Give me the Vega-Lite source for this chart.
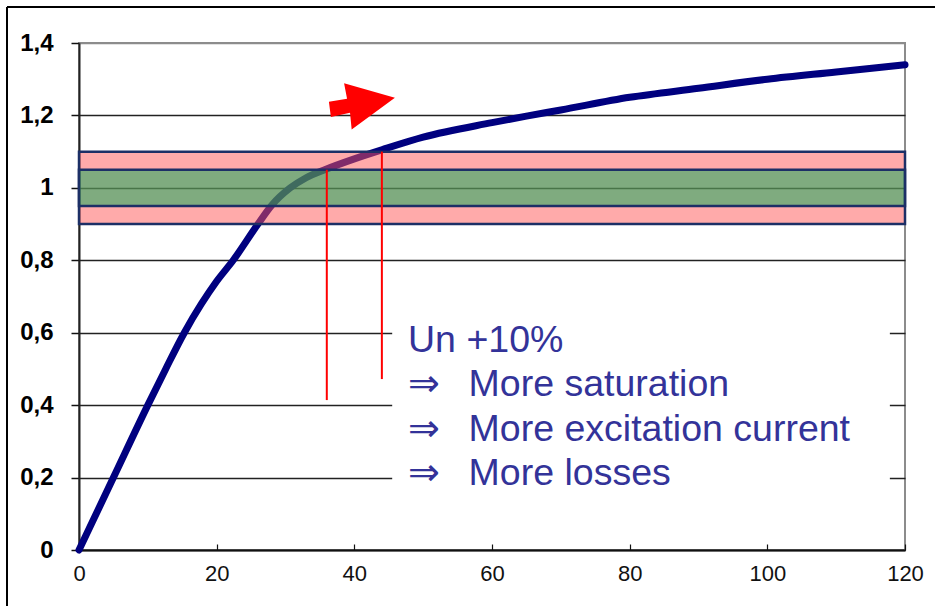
{
  "$schema": "https://vega.github.io/schema/vega-lite/v6.json",
  "width": 826,
  "height": 507,
  "autosize": {"type": "none"},
  "padding": {"left": 79, "top": 43, "right": 30, "bottom": 56},
  "background": "white",
  "config": {
    "view": {"stroke": "#8c8c8c", "strokeWidth": 2},
    "font": "Liberation Sans"
  },
  "datasets": {
    "curve": [
      {"x": 0, "y": 0}, {"x": 2, "y": 0.08}, {"x": 5, "y": 0.2}, {"x": 10, "y": 0.4},
      {"x": 12.6, "y": 0.5}, {"x": 15.3, "y": 0.6}, {"x": 17.8, "y": 0.68}, {"x": 20, "y": 0.742},
      {"x": 22.4, "y": 0.8}, {"x": 26, "y": 0.9}, {"x": 28, "y": 0.952}, {"x": 30.7, "y": 1.0},
      {"x": 33, "y": 1.028}, {"x": 35.7, "y": 1.05}, {"x": 40, "y": 1.08},
      {"x": 44, "y": 1.105}, {"x": 50, "y": 1.14}, {"x": 60, "y": 1.18}, {"x": 65, "y": 1.198},
      {"x": 70, "y": 1.215}, {"x": 80, "y": 1.25}, {"x": 90, "y": 1.275}, {"x": 100, "y": 1.3},
      {"x": 110, "y": 1.32}, {"x": 120, "y": 1.34}
    ],
    "bands": [
      {"band": "±10%", "lo": 0.9, "hi": 1.1},
      {"band": "±5%", "lo": 0.95, "hi": 1.05}
    ],
    "markers": [
      {"x": 36, "lo": 0.414, "hi": 1.05},
      {"x": 44, "lo": 0.472, "hi": 1.1}
    ],
    "notes": [
      {"head": "Un +10%\n⇒\n⇒\n⇒", "body": "\nMore saturation\nMore excitation current\nMore losses"}
    ]
  },
  "layer": [
    {
      "data": {"name": "curve"},
      "mark": {"type": "line", "opacity": 0},
      "encoding": {
        "x": {
          "field": "x", "type": "quantitative",
          "scale": {"domain": [0, 120], "nice": false, "zero": false},
          "axis": {
            "title": null, "values": [0, 20, 40, 60, 80, 100, 120],
            "domainColor": "#111", "domainWidth": 2,
            "tickColor": "#111", "tickSize": -6, "tickWidth": 1.2,
            "labelFont": "Liberation Sans", "labelFontSize": 22, "labelColor": "#111",
            "labelPadding": 19, "labelFlush": false, "grid": false
          }
        },
        "y": {
          "field": "y", "type": "quantitative",
          "scale": {"domain": [0, 1.4], "nice": false, "zero": false},
          "axis": {
            "title": null, "values": [0, 0.2, 0.4, 0.6, 0.8, 1, 1.2, 1.4],
            "labelExpr": "replace(format(datum.value, '.1~f'), '.', ',')",
            "domainColor": "#222", "domainWidth": 2,
            "tickColor": "#111", "tickSize": 8, "tickWidth": 1.5,
            "labelFont": "Liberation Sans", "labelFontSize": 24, "labelFontWeight": "bold",
            "labelColor": "#000", "labelPadding": 18, "labelFlush": false,
            "grid": true, "gridColor": {"condition": {"test": "datum.value == 1.4", "value": "#8c8c8c"}, "value": "#222"},
            "gridWidth": 1.5, "gridOpacity": 1
          }
        }
      }
    },
    {
      "data": {"values": [{}]},
      "mark": {"type": "rect", "fill": "white"},
      "encoding": {
        "x": {"datum": 45.5, "type": "quantitative"},
        "x2": {"datum": 117.8},
        "y": {"datum": 0.1, "type": "quantitative"},
        "y2": {"datum": 0.72}
      }
    },
    {
      "data": {"name": "curve"},
      "mark": {"type": "line", "color": "#00007f", "strokeWidth": 7, "interpolate": "monotone", "strokeCap": "round", "strokeJoin": "round"},
      "encoding": {
        "x": {"field": "x", "type": "quantitative"},
        "y": {"field": "y", "type": "quantitative"}
      }
    },
    {
      "data": {"name": "bands"},
      "mark": {"type": "rect", "stroke": "#1c2f66", "strokeWidth": 2.5, "fillOpacity": 0.5},
      "encoding": {
        "x": {"datum": 0, "type": "quantitative"},
        "x2": {"datum": 120},
        "y": {"field": "lo", "type": "quantitative"},
        "y2": {"field": "hi"},
        "fill": {
          "field": "band", "type": "nominal",
          "scale": {"domain": ["±10%", "±5%"], "range": ["#ff5555", "#00ac54"]},
          "legend": null
        },
        "order": {"field": "lo"}
      }
    },
    {
      "data": {"name": "markers"},
      "mark": {"type": "rule", "color": "#ff0000", "strokeWidth": 2},
      "encoding": {
        "x": {"field": "x", "type": "quantitative"},
        "y": {"field": "lo", "type": "quantitative"},
        "y2": {"field": "hi"}
      }
    },
    {
      "data": {"values": [{}]},
      "mark": {
        "type": "point", "filled": true, "fill": "#ff0000", "opacity": 1, "strokeWidth": 0,
        "size": 4356,
        "shape": "M -1 -0.14 L -0.45 -0.23 L -0.54 -0.7 L 1 -0.26 L -0.31 0.7 L -0.36 0.19 L -0.94 0.32 Z"
      },
      "encoding": {
        "x": {"datum": 41.1, "type": "quantitative"},
        "y": {"datum": 1.225, "type": "quantitative"}
      }
    },
    {
      "data": {"name": "notes"},
      "mark": {"type": "text", "align": "left", "baseline": "alphabetic", "fontSize": 37.5, "lineHeight": 44.3, "lineBreak": "\n", "color": "#333399", "font": "Liberation Sans"},
      "encoding": {
        "x": {"datum": 47.8, "type": "quantitative"},
        "y": {"datum": 0.547, "type": "quantitative"},
        "text": {"field": "head"}
      }
    },
    {
      "data": {"name": "notes"},
      "mark": {"type": "text", "align": "left", "baseline": "alphabetic", "fontSize": 37.5, "lineHeight": 44.3, "lineBreak": "\n", "color": "#333399", "font": "Liberation Sans"},
      "encoding": {
        "x": {"datum": 56.6, "type": "quantitative"},
        "y": {"datum": 0.547, "type": "quantitative"},
        "text": {"field": "body"}
      }
    },
    {
      "data": {"values": [{}]},
      "mark": {"type": "rule", "color": "#000", "strokeWidth": 2},
      "encoding": {
        "x": {"datum": -10.46, "type": "quantitative"},
        "y": {"datum": 1.4996, "type": "quantitative"},
        "y2": {"datum": -0.16}
      }
    },
    {
      "data": {"values": [{}]},
      "mark": {"type": "rule", "color": "#000", "strokeWidth": 2},
      "encoding": {
        "x": {"datum": -10.46, "type": "quantitative"},
        "x2": {"datum": 125},
        "y": {"datum": 1.4996, "type": "quantitative"}
      }
    }
  ]
}
